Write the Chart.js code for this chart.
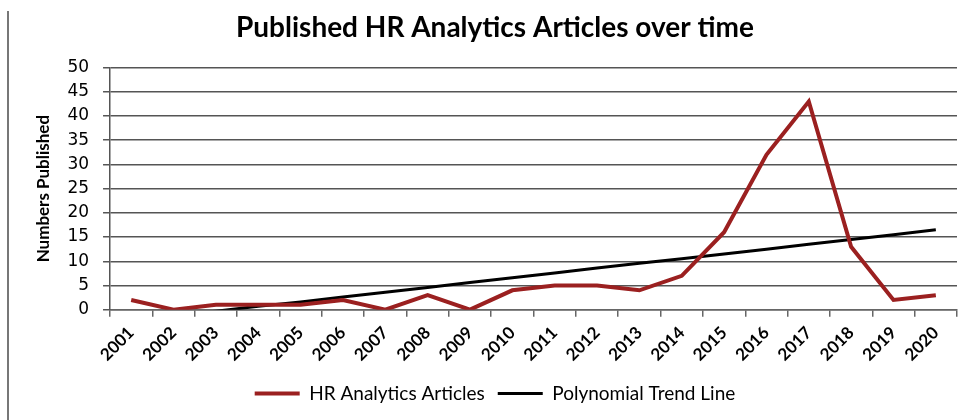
<!DOCTYPE html>
<html>
<head>
<meta charset="utf-8">
<script src="https://cdn.jsdelivr.net/npm/chart.js@4.4.1/dist/chart.umd.min.js"></script>
<style>
  html, body { margin: 0; padding: 0; background: #fff; }
  #wrap { position: relative; width: 970px; height: 420px; }
  #edge { position: absolute; left: 7px; top: 11px; width: 2px; height: 409px; background: #777; }
</style>
</head>
<body>
<div id="wrap">
  <div id="edge"></div>
  <canvas id="grafico" width="970" height="420"></canvas>
</div>
<script>
const years = ['2001', '2002', '2003', '2004', '2005', '2006', '2007', '2008', '2009', '2010',
  '2011', '2012', '2013', '2014', '2015', '2016', '2017', '2018', '2019', '2020'];
const articles = [2, 0, 1, 1, 1, 2, 0, 3, 0, 4, 5, 5, 4, 7, 16, 32, 43, 13, 2, 3];
// trend line (below 0 it is cut by the axis)
const trend = [-2.3, -1.3, -0.3, 0.7, 1.6, 2.6, 3.6, 4.6, 5.6, 6.6,
  7.6, 8.6, 9.6, 10.5, 11.5, 12.5, 13.5, 14.5, 15.5, 16.5];
const yTicks = [0, 5, 10, 15, 20, 25, 30, 35, 40, 45, 50];

const Grafico = document.getElementById('grafico');

const chartData = {
  labels: years,
  datasets: [
    {
      label: 'HR Analytics Articles',
      data: articles,
      borderColor: '#9b2020',
      backgroundColor: '#9b2020',
      borderWidth: 4,
      pointRadius: 0,
      tension: 0,
    },
    {
      label: 'Polynomial Trend Line',
      data: trend,
      borderColor: '#000000',
      backgroundColor: '#000000',
      borderWidth: 3,
      pointRadius: 0,
      tension: 0,
    }
  ]
};

const options = {
  responsive: false,
  animation: false,
  layout: {
    padding: { left: 33, right: 13, top: 7, bottom: 7 }
  },
  plugins: {
    title: {
      display: true,
      text: 'Published HR Analytics Articles over time',
      color: '#000',
      font: { family: 'Lato', size: 28, weight: 'bold' },
      padding: { top: 4, bottom: 23 }
    },
    legend: {
      position: 'bottom',
      labels: {
        usePointStyle: true,
        pointStyle: 'line',
        pointStyleWidth: 45,
        color: '#000',
        font: { family: 'Lato', size: 19 },
        padding: 13,
      }
    },
    tooltip: { enabled: false }
  },
  scales: {
    x: {
      offset: true,
      grid: {
        offset: true,
        drawOnChartArea: false,
        drawTicks: true,
        tickLength: 7,
        color: '#666',
        lineWidth: 1.5,
      },
      border: { color: '#666', width: 1.5 },
      ticks: {
        minRotation: 45,
        maxRotation: 45,
        color: '#000',
        font: { family: 'Lato', size: 17, weight: 'bold' },
        padding: 6,
      }
    },
    y: {
      min: 0,
      max: 50,
      afterBuildTicks: (axis) => { axis.ticks = yTicks.map(v => ({ value: v })); },
      grid: {
        color: '#555',
        lineWidth: 1.5,
        tickLength: 7,
      },
      border: { color: '#555', width: 1.5 },
      ticks: {
        color: '#000',
        font: { family: 'DejaVu Sans', size: 17 },
        padding: 14,
      },
      title: {
        display: true,
        text: 'Numbers Published',
        color: '#000',
        font: { family: 'Lato', size: 17, weight: 'bold' },
        padding: 0,
      }
    }
  }
};

const myChart = new Chart(Grafico, {
  type: 'line',
  data: chartData,
  options: options,
});
</script>
</body>
</html>
